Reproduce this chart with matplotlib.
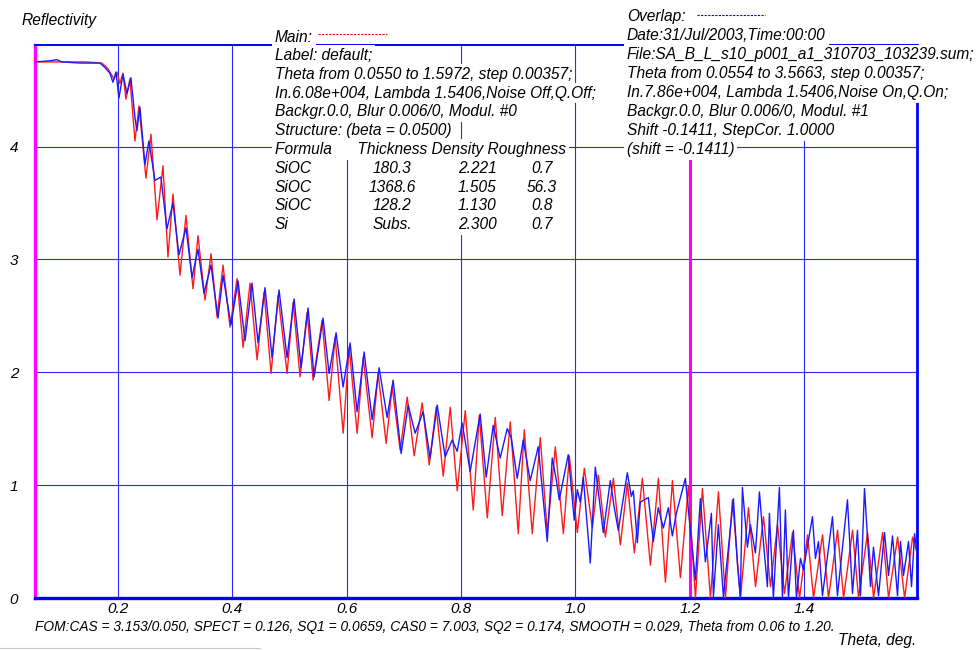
import matplotlib
matplotlib.use("Agg")
import matplotlib.pyplot as plt
from matplotlib.lines import Line2D

plt.rcParams['font.family'] = ['Liberation Sans', 'DejaVu Sans']
plt.rcParams['font.style'] = 'italic'

# main (simulated) curve, log10 of intensity vs theta
main_theta = [0.0550, 0.0985, 0.1423, 0.1720, 0.1825, 0.1930, 0.1983, 0.2035, 0.2088, 0.2140,
              0.2210, 0.2298, 0.2368, 0.2490, 0.2578, 0.2683, 0.2788, 0.2875, 0.2963, 0.3085,
              0.3190, 0.3313, 0.3400, 0.3523, 0.3628, 0.3733, 0.3838, 0.3960, 0.4083, 0.4188,
              0.4310, 0.4433, 0.4555, 0.4678, 0.4800, 0.4958, 0.5063, 0.5185, 0.5308, 0.5413,
              0.5570, 0.5693, 0.5798, 0.5938, 0.6043, 0.6183, 0.6288, 0.6445, 0.6550, 0.6690,
              0.6795, 0.6935, 0.7058, 0.7180, 0.7320, 0.7443, 0.7565, 0.7688, 0.7810, 0.7933,
              0.8073, 0.8213, 0.8318, 0.8458, 0.8598, 0.8720, 0.8860, 0.9000, 0.9105, 0.9245,
              0.9385, 0.9508, 0.9648, 0.9788, 0.9893, 1.0033, 1.0155, 1.0295, 1.0400, 1.0523,
              1.0663, 1.0785, 1.0908, 1.1030, 1.1170, 1.1310, 1.1450, 1.1573, 1.1695, 1.1835,
              1.1975, 1.2098, 1.2220, 1.2360, 1.2500, 1.2623, 1.2745, 1.2885, 1.3025, 1.3148,
              1.3288, 1.3410, 1.3533, 1.3655, 1.3795, 1.3918, 1.4058, 1.4163, 1.4320, 1.4425,
              1.4583, 1.4688, 1.4845, 1.4950, 1.5108, 1.5213, 1.5370, 1.5475, 1.5633, 1.5755,
              1.5895, 1.5972]
main_logr = [4.75, 4.75, 4.75, 4.74, 4.69, 4.60, 4.66, 4.56, 4.65, 4.42,
             4.60, 4.05, 4.36, 3.72, 4.11, 3.35, 3.83, 3.02, 3.58, 2.86,
             3.39, 2.74, 3.21, 2.64, 3.05, 2.49, 2.95, 2.40, 2.83, 2.22,
             2.79, 2.11, 2.71, 1.99, 2.68, 1.99, 2.62, 1.96, 2.53, 1.93,
             2.46, 1.75, 2.31, 1.46, 2.22, 1.46, 2.13, 1.42, 1.99, 1.37,
             1.87, 1.31, 1.78, 1.26, 1.73, 1.18, 1.69, 1.08, 1.69, 0.95,
             1.66, 0.78, 1.62, 0.71, 1.60, 0.73, 1.56, 0.57, 1.49, 0.57,
             1.42, 0.58, 1.34, 0.57, 1.26, 0.58, 1.15, 0.62, 1.09, 0.54,
             1.06, 0.47, 1.02, 0.40, 1.06, 0.29, 1.06, 0.14, 1.04, 0.18,
             0.99, 0.00, 0.97, 0.00, 0.94, 0.00, 0.87, 0.00, 0.80, 0.10,
             0.72, 0.10, 0.65, 0.04, 0.58, 0.00, 0.56, 0.00, 0.56, 0.00,
             0.60, 0.00, 0.60, 0.00, 0.58, 0.00, 0.58, 0.00, 0.54, 0.00,
             0.54, 0.40]

# overlap (measured) curve
overlap_theta = [0.0550, 0.0810, 0.0933, 0.1020, 0.1335, 0.1685, 0.1773, 0.1860, 0.1913, 0.1965,
                 0.2018, 0.2088, 0.2158, 0.2227, 0.2297, 0.2332, 0.2385, 0.2472, 0.2542, 0.2647,
                 0.2752, 0.2857, 0.2962, 0.3067, 0.3190, 0.3295, 0.3400, 0.3505, 0.3627, 0.3750,
                 0.3837, 0.3977, 0.4100, 0.4222, 0.4345, 0.4450, 0.4572, 0.4695, 0.4817, 0.4957,
                 0.5080, 0.5202, 0.5325, 0.5430, 0.5587, 0.5692, 0.5815, 0.5937, 0.6060, 0.6182,
                 0.6305, 0.6445, 0.6567, 0.6707, 0.6812, 0.6952, 0.7075, 0.7197, 0.7337, 0.7459,
                 0.7582, 0.7722, 0.7844, 0.7932, 0.8019, 0.8159, 0.8334, 0.8439, 0.8562, 0.8684,
                 0.8807, 0.8877, 0.8982, 0.9087, 0.9209, 0.9349, 0.9507, 0.9594, 0.9664, 0.9717,
                 0.9874, 0.9979, 1.0032, 1.0084, 1.0137, 1.0259, 1.0347, 1.0487, 1.0609, 1.0679,
                 1.0749, 1.0907, 1.0977, 1.1012, 1.1082, 1.1134, 1.1274, 1.1362, 1.1449, 1.1537,
                 1.1624, 1.1694, 1.1764, 1.1922, 1.2009, 1.2097, 1.2184, 1.2272, 1.2377, 1.2412,
                 1.2499, 1.2587, 1.2762, 1.2832, 1.2884, 1.2919, 1.3007, 1.3059, 1.3147, 1.3217,
                 1.3286, 1.3356, 1.3391, 1.3461, 1.3566, 1.3619, 1.3671, 1.3724, 1.3811, 1.3864,
                 1.3934, 1.3986, 1.4144, 1.4196, 1.4249, 1.4319, 1.4494, 1.4581, 1.4756, 1.4844,
                 1.4931, 1.4984, 1.5054, 1.5159, 1.5211, 1.5299, 1.5404, 1.5474, 1.5544, 1.5631,
                 1.5684, 1.5736, 1.5824, 1.5876, 1.5929, 1.5972]
overlap_logr = [4.75, 4.76, 4.77, 4.75, 4.74, 4.74, 4.70, 4.65, 4.57, 4.66,
                4.43, 4.64, 4.47, 4.61, 4.26, 4.14, 4.35, 3.84, 4.05, 3.70,
                3.73, 3.27, 3.50, 3.04, 3.28, 2.84, 3.09, 2.70, 2.95, 2.48,
                2.86, 2.42, 2.81, 2.28, 2.79, 2.26, 2.75, 2.13, 2.73, 2.13,
                2.65, 2.04, 2.57, 1.96, 2.48, 1.99, 2.35, 1.87, 2.26, 1.65,
                2.18, 1.58, 2.04, 1.60, 1.93, 1.28, 1.71, 1.46, 1.65, 1.24,
                1.71, 1.25, 1.40, 1.30, 1.55, 1.12, 1.63, 1.07, 1.53, 1.24,
                1.50, 1.42, 1.06, 1.40, 1.04, 1.34, 0.50, 1.24, 1.05, 0.87,
                1.27, 0.69, 0.96, 0.85, 1.07, 0.31, 1.16, 0.58, 1.04, 0.80,
                0.60, 1.11, 0.90, 0.95, 0.49, 0.85, 0.89, 0.50, 0.80, 0.62,
                0.80, 0.55, 0.75, 1.06, 0.60, 0.16, 0.88, 0.32, 0.75, 0.01,
                0.65, 0.01, 0.88, 0.30, 0.00, 0.98, 0.45, 0.65, 0.40, 0.94,
                0.50, 0.10, 0.75, 0.00, 0.98, 0.00, 0.78, 0.00, 0.60, 0.00,
                0.35, 0.25, 0.72, 0.35, 0.50, 0.02, 0.72, 0.02, 0.87, 0.04,
                0.60, 0.02, 0.97, 0.10, 0.45, 0.02, 0.58, 0.20, 0.55, 0.02,
                0.50, 0.20, 0.50, 0.10, 0.57, 0.40]

x_ticks = [0.2, 0.4, 0.6, 0.8, 1.0, 1.2, 1.4]
y_ticks = [0, 1, 2, 3, 4]
theta_fit_end = 1.20

main_info = ["Label: default;",
             "Theta from 0.0550 to 1.5972, step 0.00357;",
             "In.6.08e+004, Lambda 1.5406,Noise Off,Q.Off;",
             "Backgr.0.0, Blur 0.006/0, Modul. #0",
             "Structure: (beta = 0.0500)"]
table_header = "Formula      Thickness Density Roughness"
layer_formula = ["SiOC", "SiOC", "SiOC", "Si"]
layer_thickness = ["180.3", "1368.6", "128.2", "Subs."]
layer_density = ["2.221", "1.505", "1.130", "2.300"]
layer_roughness = ["0.7", "56.3", "0.8", "0.7"]

overlap_info = ["Date:31/Jul/2003,Time:00:00",
                "File:SA_B_L_s10_p001_a1_310703_103239.sum;",
                "Theta from 0.0554 to 3.5663, step 0.00357;",
                "In.7.86e+004, Lambda 1.5406,Noise On,Q.On;",
                "Backgr.0.0, Blur 0.006/0, Modul. #1",
                "Shift -0.1411, StepCor. 1.0000",
                "(shift = -0.1411)"]
fom_text = ("FOM:CAS = 3.153/0.050, SPECT = 0.126, SQ1 = 0.0659, CAS0 = 7.003, "
            "SQ2 = 0.174, SMOOTH = 0.029, Theta from 0.06 to 1.20.")

W, H = 979, 650
fig = plt.figure(figsize=(W / 100, H / 100), dpi=100)
fig.patch.set_facecolor('white')


def fx(x):
    return x / W


def fy(y):
    return 1 - y / H


ax = fig.add_axes([fx(35), fy(598), fx(917) - fx(35), fy(45) - fy(598)])
ax.set_xlim(0.055, 1.5972)
ax.set_ylim(0, 4.9)

ax.plot(main_theta, main_logr, color='#ff1a1a', lw=1.0, zorder=3)
ax.plot(overlap_theta, overlap_logr, color='#1a1aff', lw=1.0, zorder=4)
ax.axvline(theta_fit_end, color='#ff00ff', lw=2.2, zorder=2)

ax.set_xticks(x_ticks)
ax.set_xticklabels(['%.1f' % t for t in x_ticks])
ax.set_yticks(y_ticks)
ax.set_yticklabels([str(t) for t in y_ticks])
ax.tick_params(length=0, labelsize=11)
ax.tick_params(axis='x', pad=3)
ax.tick_params(axis='y', pad=12)
ax.grid(True, color='#2828ff', lw=0.8)
ax.set_axisbelow(True)

ax.spines['left'].set_color('#ff00ff')
ax.spines['left'].set_linewidth(2.4)
ax.spines['bottom'].set_color('#0000ff')
ax.spines['bottom'].set_linewidth(2.4)
ax.spines['right'].set_color('#0000ff')
ax.spines['right'].set_linewidth(2.0)
ax.spines['top'].set_color('#0000ff')
ax.spines['top'].set_linewidth(1.4)

box = dict(facecolor='white', edgecolor='none', pad=2.0)
fs = 11.2

fig.text(fx(22), fy(20), "Reflectivity", fontsize=fs, va='center')
fig.text(fx(838), fy(641), "Theta, deg.", fontsize=fs, va='center')
fig.text(fx(35), fy(627), fom_text, fontsize=9.9, va='center')

# main block
fig.text(fx(275), fy(37), "Main:", fontsize=fs, va='center', bbox=box)
fig.add_artist(Line2D([fx(318), fx(387)], [fy(34), fy(34)], color='red',
                      lw=0.8, ls=(0, (2, 1.2))))
row_y = 55.5
for line in main_info:
    fig.text(fx(275), fy(row_y), line, fontsize=fs, va='center', bbox=box)
    row_y += 18.8
fig.text(fx(275), fy(row_y), table_header, fontsize=fs, va='center', bbox=box)
row_y += 18.8
for i in range(len(layer_formula)):
    fig.text(fx(275), fy(row_y), layer_formula[i], fontsize=fs, va='center', bbox=box)
    fig.text(fx(392), fy(row_y), layer_thickness[i], fontsize=fs, va='center', ha='center', bbox=box)
    fig.text(fx(477), fy(row_y), layer_density[i], fontsize=fs, va='center', ha='center', bbox=box)
    fig.text(fx(542), fy(row_y), layer_roughness[i], fontsize=fs, va='center', ha='center', bbox=box)
    row_y += 18.8

# overlap block
fig.text(fx(627), fy(17), "Overlap:", fontsize=fs, va='center', bbox=box)
fig.add_artist(Line2D([fx(697), fx(765)], [fy(15), fy(15)], color='blue',
                      lw=0.8, ls=(0, (2, 1.2))))
row_y = 36
for line in overlap_info:
    fig.text(fx(627), fy(row_y), line, fontsize=fs, va='center', bbox=box)
    row_y += 18.9

# window edge left in the screenshot
fig.add_artist(Line2D([0, fx(260)], [fy(648), fy(648)], color='#c8c8c8', lw=0.8))

fig.savefig('out.png', dpi=100, facecolor='white')
